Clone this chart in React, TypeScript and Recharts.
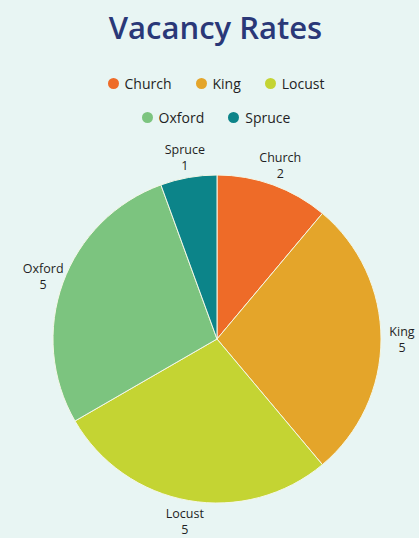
import React from "react";
import { PieChart, Pie, Cell } from "recharts";

const streets = ["Church", "King", "Locust", "Oxford", "Spruce"];
const vacancies = [2, 5, 5, 5, 1];
const sliceColors = ["#ee6b28", "#e4a52a", "#c4d433", "#7cc47f", "#0c8489"];

const data = streets.map((name, i) => ({ name, value: vacancies[i] }));

const RADIAN = Math.PI / 180;
const FONT = "'Open Sans', sans-serif";

const renderLabel = (props: any) => {
  const { cx, cy, midAngle, outerRadius, name, value } = props;
  const r = outerRadius + 21;
  const x = cx + r * Math.cos(-midAngle * RADIAN);
  const y = cy + r * Math.sin(-midAngle * RADIAN);
  return (
    <text x={x} y={y} textAnchor="middle" fill="#1f1f24" fontSize={12.5} fontFamily={FONT}>
      <tspan x={x} dy={-3}>{name}</tspan>
      <tspan x={x} dy={16}>{value}</tspan>
    </text>
  );
};

// legend rows as in the picture
const legendRows = [
  [0, 1, 2],
  [3, 4],
];

export default function App() {
  return (
    <div
      style={{
        position: "relative",
        width: 419,
        height: 538,
        background: "#e8f5f3",
        overflow: "hidden",
      }}
    >
      <style>{`body { margin: 0; }`}</style>
      <div
        style={{
          position: "absolute",
          top: 6,
          left: 0,
          width: 431,
          textAlign: "center",
          fontFamily: FONT,
          fontWeight: 600,
          fontSize: 31,
          color: "#2a3878",
        }}
      >
        Vacancy Rates
      </div>
      {legendRows.map((row, r) => (
        <div
          key={r}
          style={{
            position: "absolute",
            top: 73 + r * 34,
            left: 0,
            width: 432,
            display: "flex",
            justifyContent: "center",
            columnGap: 24,
            fontFamily: FONT,
            fontSize: 14,
            color: "#1f1f24",
          }}
        >
          {row.map((i) => (
            <div key={streets[i]} style={{ display: "flex", alignItems: "center", height: 20 }}>
              <span
                style={{
                  display: "inline-block",
                  width: 11,
                  height: 11,
                  borderRadius: "50%",
                  background: sliceColors[i],
                  marginRight: 6,
                }}
              />
              {streets[i]}
            </div>
          ))}
        </div>
      ))}
      <div style={{ position: "absolute", top: 0, left: 0 }}>
        <PieChart width={419} height={538} margin={{ top: 0, right: 0, bottom: 0, left: 0 }}>
          <Pie
            data={data}
            dataKey="value"
            nameKey="name"
            cx={217}
            cy={339}
            outerRadius={164}
            startAngle={90}
            endAngle={-270}
            stroke="#f4f7e6"
            strokeWidth={1}
            label={renderLabel}
            labelLine={false}
            isAnimationActive={false}
          >
            {data.map((d, i) => (
              <Cell key={d.name} fill={sliceColors[i]} />
            ))}
          </Pie>
        </PieChart>
      </div>
    </div>
  );
}
